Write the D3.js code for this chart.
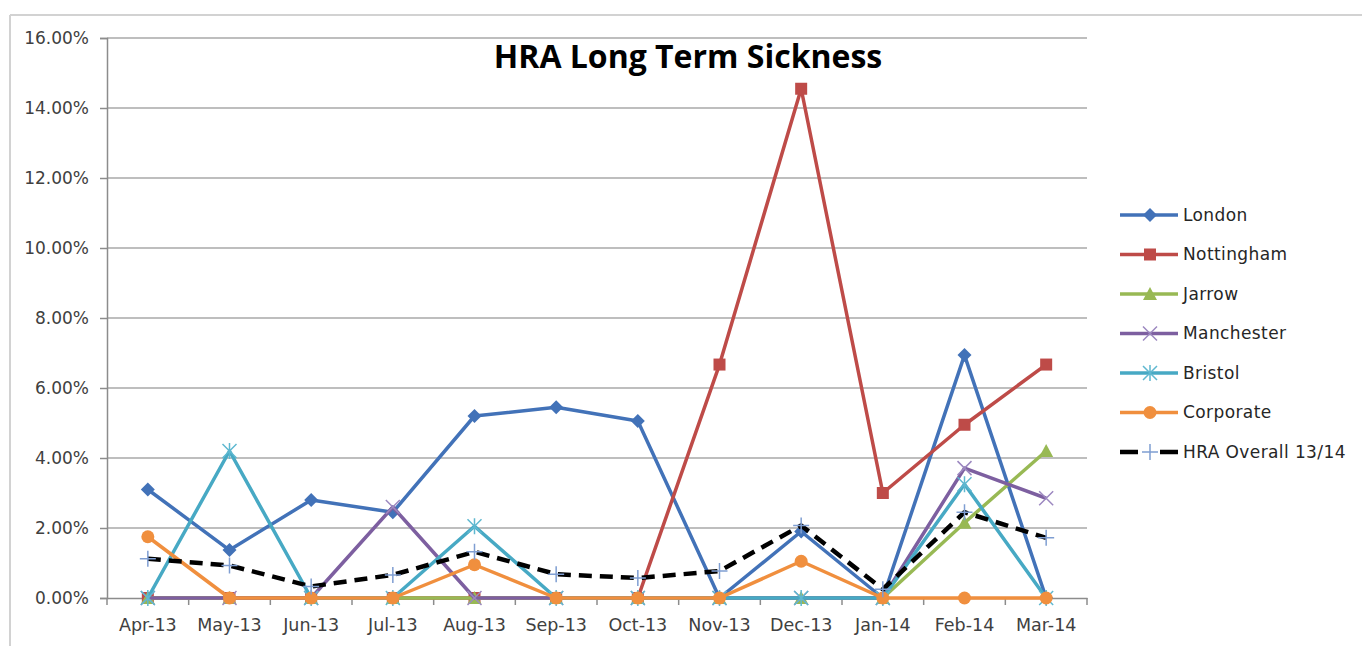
<!DOCTYPE html>
<html lang="en">

<head>
  <meta charset="utf-8">
  <style>
    body {
      margin: 0;
      padding: 0;
      background: #fff;
    }

    .tick text {
      font-family: "DejaVu Sans", Verdana, sans-serif;
      fill: #404040;
    }
  </style>
</head>

<body>
  <svg width="1362" height="646"></svg>
  <script src="https://d3js.org/d3.v7.min.js"></script>
  <script>
    // values (fractions, axis shown as %)
    var months = ["Apr-13", "May-13", "Jun-13", "Jul-13", "Aug-13", "Sep-13", "Oct-13", "Nov-13", "Dec-13", "Jan-14", "Feb-14", "Mar-14"];
    var yTicks = [0, 0.02, 0.04, 0.06, 0.08, 0.10, 0.12, 0.14, 0.16];

    var london = [0.031, 0.0137, 0.028, 0.0245, 0.052, 0.0545, 0.0506, 0, 0.019, 0, 0.0694, 0];
    var nottingham = [0, 0, 0, 0, 0, 0, 0, 0.0667, 0.1455, 0.030, 0.0495, 0.0667];
    var jarrow = [0, 0, 0, 0, 0, 0, 0, 0, 0, 0, 0.0215, 0.042];
    var manchester = [0, 0, 0, 0.026, 0, 0, 0, 0, 0, 0, 0.0371, 0.0285];
    var bristol = [0, 0.042, 0, 0, 0.0205, 0, 0, 0, 0, 0, 0.0325, 0];
    var corporate = [0.0175, 0, 0, 0, 0.0095, 0, 0, 0, 0.0105, 0, 0, 0];
    var hraOverall = [0.0112, 0.0093, 0.0033, 0.0066, 0.0132, 0.0068, 0.0057, 0.0077, 0.0207, 0.0025, 0.0245, 0.0172];

    var series = [
      { name: "London", values: london, color: "#4272b8", marker: "diamond" },
      { name: "Nottingham", values: nottingham, color: "#be4b48", marker: "square" },
      { name: "Jarrow", values: jarrow, color: "#98b954", marker: "triangle" },
      { name: "Manchester", values: manchester, color: "#7d5fa0", marker: "x", markerColor: "#9c88c0" },
      { name: "Bristol", values: bristol, color: "#47a9c4", marker: "star", markerColor: "#5fb8d0" },
      { name: "Corporate", values: corporate, color: "#f08f3e", marker: "circle" },
      { name: "HRA Overall 13/14", values: hraOverall, color: "#000", marker: "plus", markerColor: "#7f9ed2", dashed: true }
    ];

    var svg = d3.select("svg"),
      plot = { left: 107, right: 1087, top: 38, bottom: 598 };

    // outer chart frame (only top and left edges show)
    svg.append("line").attr("x1", 10).attr("x2", 1362).attr("y1", 15).attr("y2", 15)
      .attr("stroke", "#d2d2d2").attr("stroke-width", 2);
    svg.append("line").attr("x1", 10).attr("x2", 10).attr("y1", 15).attr("y2", 646)
      .attr("stroke", "#d2d2d2").attr("stroke-width", 2);

    var x = d3.scaleBand()
      .domain(months)
      .range([plot.left, plot.right])
      .padding(0);

    var y = d3.scaleLinear()
      .domain([0, 0.16])
      .range([plot.bottom, plot.top]);

    function cx(i) {
      return x(months[i]) + x.bandwidth() / 2;
    }

    // gridlines
    svg.append("g")
      .selectAll("line")
      .data(yTicks.slice(1))
      .enter().append("line")
      .attr("x1", plot.left)
      .attr("x2", plot.right)
      .attr("y1", function(d) { return y(d); })
      .attr("y2", function(d) { return y(d); })
      .attr("stroke", "#a8a8a8")
      .attr("stroke-width", 1.5);

    // y axis
    var yAxis = svg.append("g")
      .attr("transform", "translate(" + plot.left + ",0)")
      .call(d3.axisLeft(y).tickValues(yTicks).tickFormat(d3.format(".2%")).tickSize(7).tickPadding(11));
    yAxis.selectAll("text").style("font-size", "17px");

    // x axis
    var xAxis = svg.append("g")
      .attr("transform", "translate(0," + plot.bottom + ")")
      .call(d3.axisBottom(x).tickSize(0).tickPadding(21));
    xAxis.selectAll("text").style("font-size", "17.5px");

    svg.selectAll(".domain").attr("stroke", "#8c8c8c").attr("stroke-width", 1.5);
    yAxis.selectAll(".tick line").attr("stroke", "#8c8c8c").attr("stroke-width", 1.5);

    // x tick marks between categories
    svg.append("g")
      .selectAll("line")
      .data(months.concat(["end"]))
      .enter().append("line")
      .attr("x1", function(d, i) { return plot.left + i * x.bandwidth(); })
      .attr("x2", function(d, i) { return plot.left + i * x.bandwidth(); })
      .attr("y1", plot.bottom)
      .attr("y2", plot.bottom + 7)
      .attr("stroke", "#8c8c8c")
      .attr("stroke-width", 1.5);

    // marker drawing
    function drawMarker(g, type, color, mColor) {
      var s = 6;
      if (type == "diamond") {
        g.append("path").attr("d", "M0,-7L7,0L0,7L-7,0Z").attr("fill", color);
      } else if (type == "square") {
        g.append("rect").attr("x", -s).attr("y", -s).attr("width", 2 * s).attr("height", 2 * s).attr("fill", color);
      } else if (type == "triangle") {
        g.append("path").attr("d", "M0,-7L7,6L-7,6Z").attr("fill", color);
      } else if (type == "circle") {
        g.append("circle").attr("r", 6.5).attr("fill", color);
      } else if (type == "x") {
        g.append("path").attr("d", "M-7,-7L7,7M-7,7L7,-7").attr("stroke", mColor).attr("stroke-width", 1.5);
      } else if (type == "star") {
        g.append("path").attr("d", "M-7,-7L7,7M-7,7L7,-7M0,-8L0,8").attr("stroke", mColor).attr("stroke-width", 1.5);
      } else if (type == "plus") {
        g.append("path").attr("d", "M-8,0L8,0M0,-8L0,8").attr("stroke", mColor).attr("stroke-width", 1.5);
      }
    }

    var line = d3.line()
      .x(function(d, i) { return cx(i); })
      .y(function(d) { return y(d); });

    series.forEach(function(s) {
      svg.append("path")
        .datum(s.values)
        .attr("fill", "none")
        .attr("stroke", s.color)
        .attr("stroke-width", s.dashed ? 4.5 : 3.5)
        .attr("stroke-dasharray", s.dashed ? "13,8" : null)
        .attr("stroke-linejoin", "round")
        .attr("d", line);

      s.values.forEach(function(v, i) {
        var g = svg.append("g").attr("transform", "translate(" + cx(i) + "," + y(v) + ")");
        drawMarker(g, s.marker, s.color, s.markerColor);
      });
    });

    // title
    svg.append("text")
      .attr("x", 688)
      .attr("y", 68)
      .attr("text-anchor", "middle")
      .style("font-family", "'Open Sans', Lato, sans-serif")
      .style("font-weight", "bold")
      .style("font-size", "32px")
      .attr("fill", "#000")
      .text("HRA Long Term Sickness");

    // legend
    var legend = svg.append("g")
      .selectAll("g")
      .data(series)
      .enter().append("g")
      .attr("transform", function(d, i) {
        return "translate(1120," + (215 + i * 39.5) + ")";
      });

    legend.append("line")
      .attr("x1", 0)
      .attr("x2", 58)
      .attr("stroke", function(d) { return d.color; })
      .attr("stroke-width", function(d) { return d.dashed ? 4.5 : 3.5; })
      .attr("stroke-dasharray", function(d) { return d.dashed ? "18,22" : null; });

    legend.each(function(d) {
      var g = d3.select(this).append("g").attr("transform", "translate(30,0)");
      drawMarker(g, d.marker, d.color, d.markerColor);
    });

    legend.append("text")
      .attr("x", 63)
      .attr("dy", "0.35em")
      .style("font-family", "'DejaVu Sans', Verdana, sans-serif")
      .style("font-size", "17px")
      .style("letter-spacing", "0.4px")
      .attr("fill", "#262626")
      .text(function(d) { return d.name; });
  </script>
</body>

</html>
